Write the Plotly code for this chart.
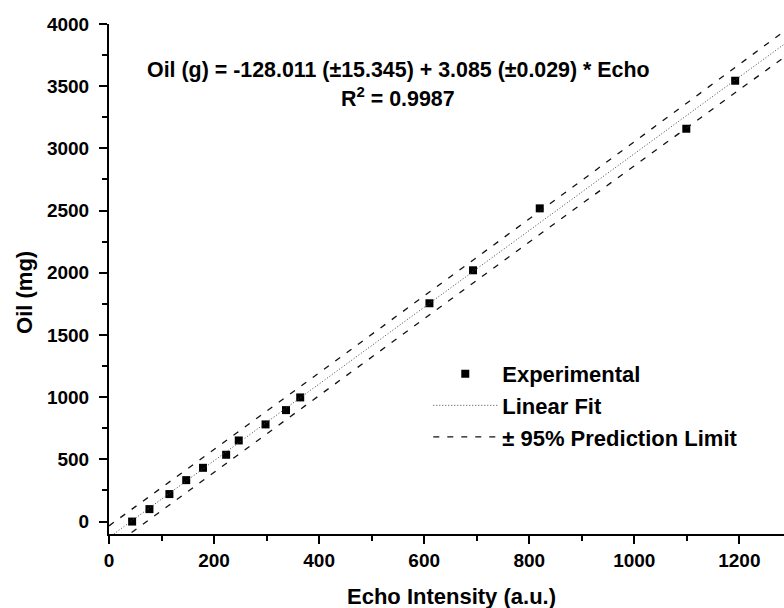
import numpy as np
import plotly.graph_objects as go

# Data
echo = [44, 77, 115, 147, 179, 223, 247, 298, 337, 364, 610, 693, 820, 1099, 1192]
oil = [0, 100, 221, 333, 432, 537, 652, 781, 896, 998, 1755, 2020, 2518, 3158, 3544]

# Fit parameters stated on the chart
intercept = -128.011
slope = 3.085
slope_se = 0.029
t_crit = 2.160  # t(0.975, n-2=13)

x_tick_vals = [0, 200, 400, 600, 800, 1000, 1200]
y_tick_vals = [0, 500, 1000, 1500, 2000, 2500, 3000, 3500, 4000]

xa = np.array(echo, dtype=float)
n = len(xa)
xbar = xa.mean()
sxx = ((xa - xbar) ** 2).sum()
s_res = slope_se * np.sqrt(sxx)

x_line = np.linspace(0, 1300, 300)
y_fit = intercept + slope * x_line
half = t_crit * s_res * np.sqrt(1 + 1 / n + (x_line - xbar) ** 2 / sxx)
y_up = y_fit + half
y_lo = y_fit - half

FONT = "Liberation Sans, Arial, sans-serif"

fig = go.Figure()
fig.add_trace(go.Scatter(
    x=echo, y=oil, mode="markers", name="Experimental",
    marker=dict(symbol="square", size=8, color="black", line=dict(width=0)),
))
fig.add_trace(go.Scatter(
    x=x_line, y=y_fit, mode="lines", name="Linear Fit",
    line=dict(color="#444444", width=1, dash="1px,2px"),
))
fig.add_trace(go.Scatter(
    x=x_line, y=y_up, mode="lines", name="± 95% Prediction Limit",
    line=dict(color="#111111", width=1.3, dash="6px,8px"), legendgroup="pl",
))
fig.add_trace(go.Scatter(
    x=x_line, y=y_lo, mode="lines", name="± 95% Prediction Limit",
    line=dict(color="#111111", width=1.3, dash="6px,8px"), legendgroup="pl",
    showlegend=False,
))

tickfont = dict(family=FONT, size=19, color="black", weight="bold")

fig.update_xaxes(
    range=[0, 1285], tickvals=x_tick_vals, ticks="outside", ticklen=8, tickwidth=2,
    tickcolor="black", showline=True, linecolor="black", linewidth=2,
    showgrid=False, zeroline=False, tickfont=tickfont,
    minor=dict(dtick=100, tick0=0, ticks="outside", ticklen=5, tickwidth=2, tickcolor="black"),
)
fig.update_yaxes(
    range=[-100, 4000], tickvals=y_tick_vals, ticks="outside", ticklen=8, tickwidth=2,
    tickcolor="black", showline=True, linecolor="black", linewidth=2,
    showgrid=False, zeroline=False, tickfont=tickfont, ticklabelstandoff=6,
    minor=dict(dtick=250, tick0=0, ticks="outside", ticklen=5, tickwidth=2, tickcolor="black"),
)

fig.add_annotation(
    text="Oil (g) = -128.011 (±15.345) + 3.085 (±0.029) * Echo",
    xref="paper", yref="paper", x=0.4284, y=0.9098, xanchor="center", yanchor="middle",
    showarrow=False, font=dict(family=FONT, size=21.4, color="black", weight="bold"),
)
fig.add_annotation(
    text="R<sup>2</sup> = 0.9987",
    xref="paper", yref="paper", x=0.4284, y=0.857, xanchor="center", yanchor="middle",
    showarrow=False, font=dict(family=FONT, size=21.4, color="black", weight="bold"),
)
fig.add_annotation(
    text="Echo Intensity (a.u.)",
    xref="paper", yref="paper", x=0.507, y=-0.1216, xanchor="center", yanchor="middle",
    showarrow=False, font=dict(family=FONT, size=22, color="black", weight="bold"),
)
fig.add_annotation(
    text="Oil (mg)", textangle=-90,
    xref="paper", yref="paper", x=-0.126, y=0.4745, xanchor="center", yanchor="middle",
    showarrow=False, font=dict(family=FONT, size=22, color="black", weight="bold"),
)

fig.update_layout(
    width=784, height=608,
    margin=dict(l=109, r=0, t=24, b=74),
    paper_bgcolor="white", plot_bgcolor="white",
    showlegend=True,
    legend=dict(
        x=0.473, y=0.355, xanchor="left", yanchor="top",
        bgcolor="rgba(0,0,0,0)", borderwidth=0,
        font=dict(family=FONT, size=22, color="black", weight="bold"),
        itemwidth=64, tracegroupgap=0,
    ),
)

fig.write_html("out.html")
